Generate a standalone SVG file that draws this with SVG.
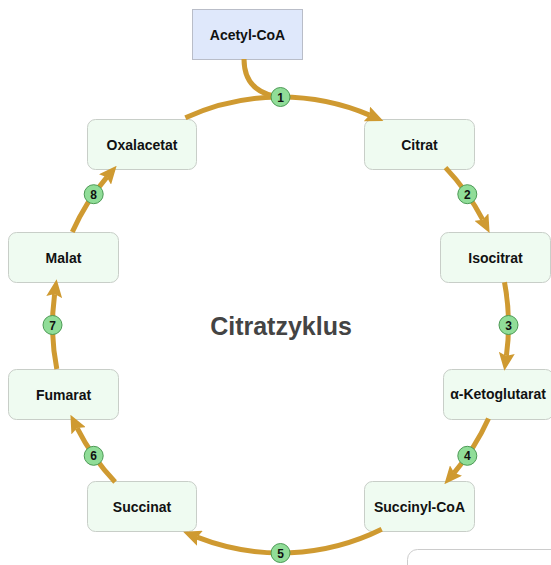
<svg xmlns="http://www.w3.org/2000/svg" width="551" height="565" viewBox="0 0 551 565">
<style>
.node rect{fill:#effbf1;stroke:#c8cec8;stroke-width:1}
.node text,.src text{font-family:"Liberation Sans",Arial,sans-serif;font-weight:bold;font-size:14px;fill:#111;text-anchor:middle;dominant-baseline:central}
.src rect{fill:#dfe8fb;stroke:#b9bdc8;stroke-width:1}
.conn path{fill:none;stroke:#cf9a31;stroke-width:5}
.badge circle{fill:#90dd98;stroke:#4c9a55;stroke-width:1}
.badge text{font-family:"Liberation Sans",Arial,sans-serif;font-weight:bold;font-size:12px;fill:#111;text-anchor:middle;dominant-baseline:central}
.title{font-family:"Liberation Sans",Arial,sans-serif;font-weight:bold;font-size:25px;fill:#444;text-anchor:middle;dominant-baseline:central}
</style>
<defs>
<marker id="ah" markerUnits="userSpaceOnUse" markerWidth="18" markerHeight="16" refX="3" refY="8" orient="auto">
<path d="M0,0 L18,8 L0,16 L3,8 z" fill="#cf9a31"/>
</marker>
</defs>
<rect x="407.5" y="549.5" width="200" height="60" rx="10" fill="#fff" stroke="#cccccc"/>
<g id="nodes">
<g id="acetylcoa" class="src"><rect x="192.5" y="9.5" width="110" height="50"/><text x="247.5" y="35">Acetyl-CoA</text></g>
<g id="citrat" class="node"><rect x="364.5" y="119.5" width="110" height="50" rx="8"/><text x="419.5" y="144.5">Citrat</text></g>
<g id="isocitrat" class="node"><rect x="440.5" y="232.5" width="110" height="50" rx="8"/><text x="495.5" y="257.5">Isocitrat</text></g>
<g id="ketoglutarat" class="node"><rect x="443.5" y="369.5" width="110" height="50" rx="8"/><text x="498" y="394">α-Ketoglutarat</text></g>
<g id="succinylcoa" class="node"><rect x="364.5" y="481.5" width="110" height="50" rx="8"/><text x="419.5" y="506.5">Succinyl-CoA</text></g>
<g id="succinat" class="node"><rect x="87.5" y="481.5" width="109" height="50" rx="8"/><text x="142" y="506.5">Succinat</text></g>
<g id="fumarat" class="node"><rect x="8.5" y="369.5" width="110" height="50" rx="8"/><text x="63.5" y="394.5">Fumarat</text></g>
<g id="malat" class="node"><rect x="8.5" y="232.5" width="110" height="50" rx="8"/><text x="63.5" y="257.5">Malat</text></g>
<g id="oxalacetat" class="node"><rect x="87.5" y="119.5" width="109" height="50" rx="8"/><text x="142" y="144.5">Oxalacetat</text></g>
</g>
<g id="connectors" class="conn">
<path d="M244,59 C244,80 255,92 274,96"/>
<path d="M185.4,117.8 A228,228 0 0 1 369.6,115.1" marker-end="url(#ah)"/>
<path d="M445.5,167.6 A228,228 0 0 1 482.7,219.7" marker-end="url(#ah)"/>
<path d="M504.5,282.3 A228,228 0 0 1 506.4,355.9" marker-end="url(#ah)"/>
<path d="M488.5,418.5 A228,228 0 0 1 454.1,472.8" marker-end="url(#ah)"/>
<path d="M381.7,529.3 A228,228 0 0 1 197.1,537.2" marker-end="url(#ah)"/>
<path d="M115.1,482 A228,228 0 0 1 77.2,428.1" marker-end="url(#ah)"/>
<path d="M56.8,368.9 A228,228 0 0 1 54.6,294.1" marker-end="url(#ah)"/>
<path d="M72.3,232 A228,228 0 0 1 106.9,177.2" marker-end="url(#ah)"/>
</g>
<g id="badges" class="badge">
<g><circle cx="280.5" cy="97" r="9.5"/><text x="280.5" y="97.5">1</text></g>
<g><circle cx="467.3" cy="194.2" r="9.5"/><text x="467.3" y="194.7">2</text></g>
<g><circle cx="508.5" cy="325" r="9.5"/><text x="508.5" y="325.5">3</text></g>
<g><circle cx="467.3" cy="455.8" r="9.5"/><text x="467.3" y="456.3">4</text></g>
<g><circle cx="280.5" cy="553" r="9.5"/><text x="280.5" y="553.5">5</text></g>
<g><circle cx="93.7" cy="455.8" r="9.5"/><text x="93.7" y="456.3">6</text></g>
<g><circle cx="52.5" cy="325" r="9.5"/><text x="52.5" y="325.5">7</text></g>
<g><circle cx="93.7" cy="194.2" r="9.5"/><text x="93.7" y="194.7">8</text></g>
</g>
<text class="title" x="281" y="326">Citratzyklus</text>
</svg>
